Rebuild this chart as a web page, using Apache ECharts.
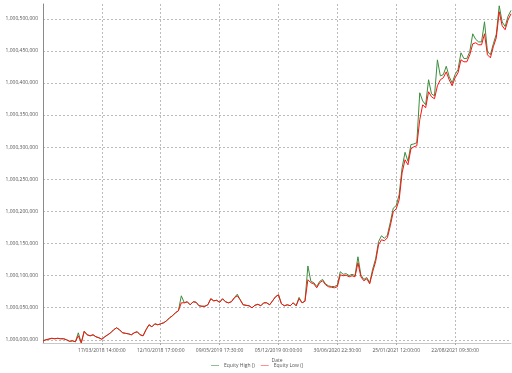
<!DOCTYPE html>
<html>
<head>
<meta charset="utf-8">
<script src="https://cdn.jsdelivr.net/npm/echarts@6/dist/echarts.min.js"></script>
<style>
html,body{margin:0;padding:0;background:#fff;}
#chart{width:512px;height:373px;}
</style>
</head>
<body>
<div id="chart"></div>
<script>
// Tick labels shown on the category (date) axis, one every 20 points
const xTickLabels = [
  "17/03/2018 14:00:00",
  "12/10/2018 17:00:00",
  "09/05/2019 17:30:00",
  "05/12/2019 00:00:00",
  "30/06/2020 22:30:00",
  "25/01/2021 12:00:00",
  "22/08/2021 09:30:00"
];
const xLabelStep = 20;

// Equity Low ()
const equityLow = [
  999998400,1000000000,1000001100,1000002300,1000001600,1000002300,1000001600,1000001600,1000000000,999997700,
  999998400,999996900,1000006200,999995300,1000013200,1000007800,1000006200,1000007800,1000004700,1000003100,
  1000000800,1000004700,1000007800,1000010900,1000015600,1000018700,1000015600,1000010900,1000010100,1000009300,
  1000007800,1000010900,1000012500,1000007800,1000006200,1000015600,1000023400,1000020200,1000024900,1000023400,
  1000024900,1000026500,1000029600,1000034300,1000037400,1000042100,1000045200,1000057600,1000057600,1000059200,
  1000054500,1000059200,1000058500,1000053000,1000052200,1000052200,1000054500,1000063900,1000060700,1000061500,
  1000058400,1000063900,1000059200,1000057600,1000059200,1000065400,1000068500,1000062300,1000054500,1000053700,
  1000053000,1000049800,1000053700,1000055300,1000053000,1000057600,1000057600,1000054500,1000060700,1000067000,
  1000070100,1000056100,1000053000,1000054500,1000053000,1000057600,1000053000,1000063900,1000057600,1000060000,
  1000093500,1000088800,1000087200,1000081000,1000088800,1000091900,1000085700,1000082600,1000081800,1000081000,
  1000082600,1000101200,1000099700,1000100500,1000098100,1000099700,1000098100,1000119900,1000098100,1000091900,
  1000095000,1000087200,1000105900,1000121500,1000148000,1000155800,1000154200,1000158900,1000177600,1000199400,
  1000204000,1000218000,1000260000,1000280400,1000272600,1000297500,1000300600,1000302200,1000342700,1000366000,
  1000361400,1000386300,1000378500,1000375400,1000395600,1000405000,1000408100,1000417400,1000405000,1000395600,
  1000408100,1000415900,1000436100,1000433000,1000433000,1000443900,1000461000,1000462600,1000459500,1000459500,
  1000476600,1000443900,1000439200,1000456400,1000470400,1000510900,1000489100,1000482900,1000498400,1000507800
];

// Equity High ()
const equityHigh = [
  999998400,1000000000,1000001100,1000002300,1000001600,1000002300,1000001600,1000001600,1000000000,999997700,
  999998400,999996900,1000010900,999995300,1000013200,1000007800,1000006200,1000007800,1000004700,1000003100,
  1000000800,1000004700,1000007800,1000010900,1000015600,1000018700,1000015600,1000010900,1000010100,1000009300,
  1000007800,1000010900,1000012500,1000007800,1000006200,1000015600,1000023400,1000020200,1000024900,1000023400,
  1000024900,1000026500,1000029600,1000034300,1000037400,1000042100,1000045200,1000068500,1000057600,1000059200,
  1000054500,1000059200,1000058500,1000053000,1000052200,1000052200,1000054500,1000063900,1000060700,1000061500,
  1000058400,1000063900,1000059200,1000057600,1000059200,1000065400,1000071000,1000062300,1000054500,1000053700,
  1000053000,1000049800,1000053700,1000055300,1000053000,1000057600,1000057600,1000054500,1000060700,1000067000,
  1000070100,1000056100,1000053000,1000054500,1000053000,1000057600,1000053000,1000066000,1000057600,1000060000,
  1000115000,1000091000,1000089000,1000083000,1000091000,1000094000,1000087000,1000084000,1000083000,1000083000,
  1000085000,1000106000,1000102000,1000103000,1000100000,1000102000,1000100000,1000129300,1000101000,1000094000,
  1000097000,1000089000,1000110000,1000126000,1000153000,1000162000,1000158000,1000163000,1000183000,1000205000,
  1000209000,1000226000,1000268000,1000292000,1000278000,1000304000,1000305000,1000307000,1000384700,1000372000,
  1000366000,1000405000,1000383000,1000380000,1000436000,1000411000,1000413000,1000426000,1000410000,1000400000,
  1000413000,1000421000,1000447000,1000438000,1000438000,1000449000,1000476600,1000468000,1000464000,1000464000,
  1000495300,1000449000,1000444000,1000461000,1000476000,1000520200,1000495000,1000488000,1000504000,1000513000
];

const categories = equityLow.map((_, i) => String(i));
const showTick = (idx) => idx > 0 && idx % xLabelStep === 0;
const FONT = 'Open Sans';

const chart = echarts.init(document.getElementById('chart'), null, {renderer: 'canvas'});
chart.setOption({
  animation: false,
  backgroundColor: '#ffffff',
  grid: {left: 43, right: 1, top: 4, bottom: 30, containLabel: false, outerBoundsMode: 'none'},
  legend: {
    left: 211, top: 363, padding: 0,
    itemWidth: 8, itemHeight: 1, itemGap: 6,
    icon: 'rect',
    textStyle: {fontSize: 5, color: '#555', fontFamily: FONT},
    data: ['Equity High ()', 'Equity Low ()']
  },
  xAxis: {
    type: 'category',
    data: categories,
    boundaryGap: false,
    name: 'Date',
    nameLocation: 'middle',
    nameGap: 9,
    nameTextStyle: {fontSize: 5, color: '#555', fontFamily: FONT},
    axisLine: {show: true, lineStyle: {color: '#c8c8c8', width: 1}},
    axisTick: {show: true, interval: (i) => showTick(i), length: 2, lineStyle: {color: '#aaa'}},
    axisLabel: {
      interval: (i) => showTick(i),
      formatter: (v, i) => xTickLabels[i / xLabelStep - 1] || '',
      fontSize: 5, color: '#555', fontFamily: FONT, margin: 5
    },
    splitLine: {show: true, interval: (i) => showTick(i), lineStyle: {color: '#bbb', type: [2, 2], width: 1}}
  },
  yAxis: {
    type: 'value',
    min: 999995000,
    max: 1000523000,
    splitNumber: 10,
    name: 'Equity ()',
    nameLocation: 'middle',
    nameGap: 33,
    nameTextStyle: {fontSize: 5, color: '#555', fontFamily: FONT},
    axisLine: {show: true, lineStyle: {color: '#8a8a8a', width: 1}},
    axisTick: {show: false},
    axisLabel: {
      showMinLabel: false, showMaxLabel: false,
      fontSize: 5, color: '#555', fontFamily: FONT, margin: 5
    },
    splitLine: {show: true, showMinLine: false, showMaxLine: false, lineStyle: {color: '#bbb', type: [2, 2], width: 1}}
  },
  series: [
    {
      name: 'Equity High ()', type: 'line', data: equityHigh,
      symbol: 'none', lineStyle: {color: '#3c8c3c', width: 1}, itemStyle: {color: '#8fc08f'}, z: 2
    },
    {
      name: 'Equity Low ()', type: 'line', data: equityLow,
      symbol: 'none', lineStyle: {color: '#ff1010', width: 1}, itemStyle: {color: '#ff9090'}, z: 3
    }
  ]
});
</script>
</body>
</html>
